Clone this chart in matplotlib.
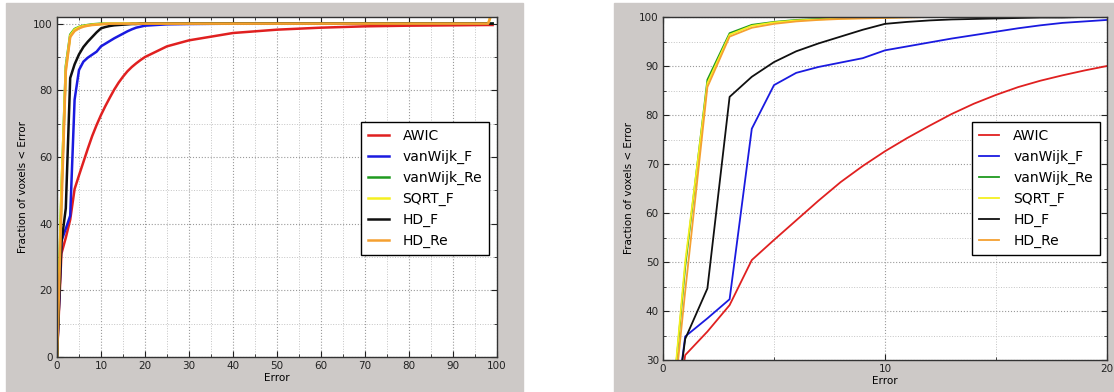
import matplotlib
matplotlib.use("Agg")
import matplotlib.pyplot as plt
from matplotlib.patches import Rectangle
from matplotlib.ticker import MultipleLocator

# error thresholds shared by all curves
error = [0, 1, 2, 3, 4, 5, 6, 7, 8, 9, 10, 11, 12, 13, 14, 15, 16, 17, 18, 19, 20,
         25, 30, 40, 50, 60, 70, 80, 90, 98, 99]

awic = [0, 31.0, 35.8, 41.2, 50.4, 54.5, 58.5, 62.5, 66.3, 69.6, 72.6, 75.3, 77.8,
        80.2, 82.3, 84.1, 85.7, 87.0, 88.1, 89.1, 90.0,
        93.2, 95.0, 97.2, 98.2, 98.8, 99.2, 99.4, 99.5, 99.6, 99.6]
vanwijk_f = [0, 34.8, 38.5, 42.4, 77.2, 86.1, 88.6, 89.8, 90.7, 91.6, 93.2, 94.0, 94.8,
             95.6, 96.3, 97.0, 97.7, 98.3, 98.8, 99.1, 99.4,
             99.8, 99.9, 100, 100, 100, 100, 100, 100, 100, 100]
vanwijk_re = [0, 49.0, 87.2, 96.7, 98.4, 99.0, 99.4, 99.6, 99.8, 99.9, 100, 100, 100,
              100, 100, 100, 100, 100, 100, 100, 100,
              100, 100, 100, 100, 100, 100, 100, 100, 100, 100]
sqrt_f = [0, 50.0, 86.5, 96.4, 98.2, 98.9, 99.3, 99.5, 99.7, 99.8, 99.9, 100, 100,
          100, 100, 100, 100, 100, 100, 100, 100,
          100, 100, 100, 100, 100, 100, 100, 100, 100, 104]
hd_f = [0, 34.3, 44.6, 83.7, 87.8, 90.8, 93.0, 94.6, 96.0, 97.4, 98.6, 99.0, 99.3,
        99.5, 99.6, 99.7, 99.8, 99.9, 99.9, 100, 100,
        100, 100, 100, 100, 100, 100, 100, 100, 100, 100]
hd_re = [0, 44.0, 85.7, 96.0, 97.8, 98.6, 99.1, 99.4, 99.6, 99.7, 99.8, 99.9, 100,
         100, 100, 100, 100, 100, 100, 100, 100,
         100, 100, 100, 100, 100, 100, 100, 100, 100, 104]

labels = ["AWIC", "vanWijk_F", "vanWijk_Re", "SQRT_F", "HD_F", "HD_Re"]
series = [awic, vanwijk_f, vanwijk_re, sqrt_f, hd_f, hd_re]
colors = ["#e02020", "#1a1ae0", "#1f9a1f", "#f5f020", "#101010", "#f5a030"]

GRAY = "#cdc9c7"
FS = 7.5

fig = plt.figure(figsize=(11.14, 3.92), dpi=100)
fig.patches.append(Rectangle((6 / 1114, 0), 517 / 1114, 389 / 392,
                             transform=fig.transFigure, color=GRAY, zorder=-10))
fig.patches.append(Rectangle((614 / 1114, 0), 500 / 1114, 389 / 392,
                             transform=fig.transFigure, color=GRAY, zorder=-10))


def style_axes(ax, xlim, ylim, xmaj, xmin, ymaj, ymin):
    ax.set_xlim(*xlim)
    ax.set_ylim(*ylim)
    ax.xaxis.set_major_locator(MultipleLocator(xmaj))
    ax.xaxis.set_minor_locator(MultipleLocator(xmin))
    ax.yaxis.set_major_locator(MultipleLocator(ymaj))
    ax.yaxis.set_minor_locator(MultipleLocator(ymin))
    ax.grid(True, which="major", linestyle=":", color="#9a9a9a", lw=0.8)
    ax.grid(True, which="minor", linestyle=":", color="#c4c4c4", lw=0.7)
    ax.set_axisbelow(True)
    ax.tick_params(which="both", direction="in", top=True, right=True,
                   labelsize=FS, colors="#222222", pad=3)
    ax.tick_params(which="major", length=4)
    ax.tick_params(which="minor", length=2)
    for sp in ax.spines.values():
        sp.set_color("#333333")
        sp.set_linewidth(1.0)
    ax.set_xlabel("Error", fontsize=FS, labelpad=1)
    ax.set_ylabel("Fraction of voxels < Error", fontsize=FS, labelpad=4)


def add_legend(ax, anchor):
    leg = ax.legend(loc="upper right", bbox_to_anchor=anchor, borderaxespad=0,
                    fontsize=10, handlelength=1.5, labelspacing=0.5,
                    fancybox=False, framealpha=1, edgecolor="black",
                    borderpad=0.5, handletextpad=1.0)
    leg.get_frame().set_linewidth(1.0)


ax1 = fig.add_axes([57 / 1114, 35 / 392, 440 / 1114, 340 / 392])
for vals, lab, c in zip(series, labels, colors):
    ax1.plot(error, vals, color=c, lw=1.8, label=lab)
style_axes(ax1, (0, 100), (0, 102), 10, 5, 20, 10)
add_legend(ax1, (0.982, 0.691))

ax2 = fig.add_axes([663 / 1114, 32 / 392, 444 / 1114, 343 / 392])
for vals, lab, c in zip(series, labels, colors):
    ax2.plot(error, vals, color=c, lw=1.3, label=lab)
style_axes(ax2, (0, 20), (30, 100), 10, 5, 10, 5)
add_legend(ax2, (0.984, 0.694))

fig.savefig("out.png", dpi=100)
